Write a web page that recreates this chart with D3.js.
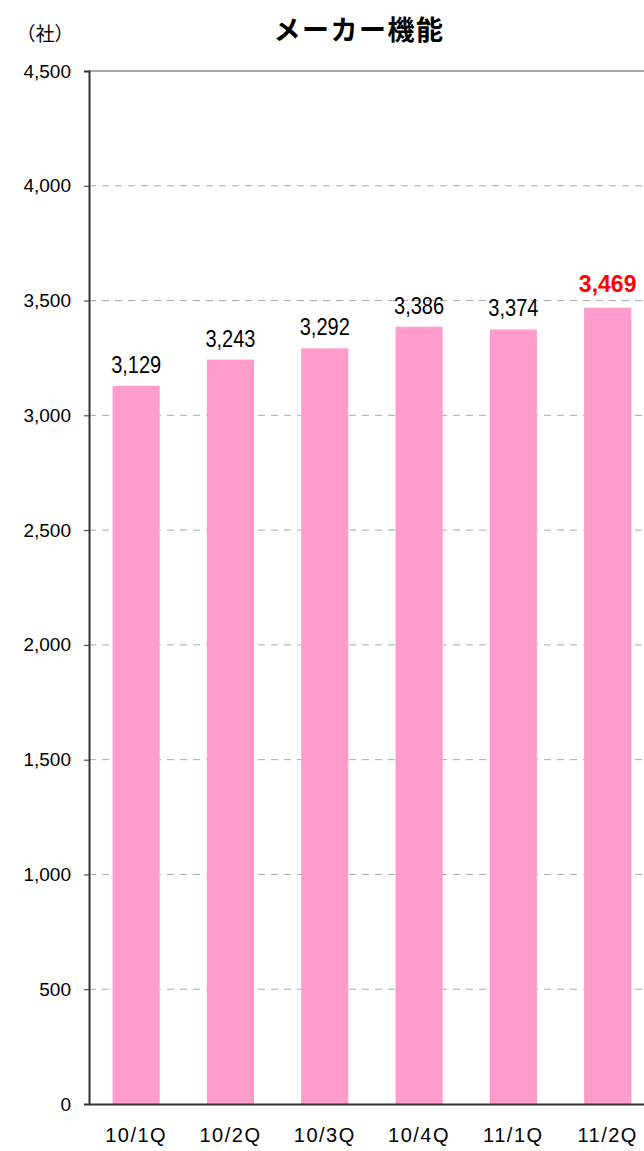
<!DOCTYPE html>
<html><head><meta charset="utf-8">
<script src="https://cdn.jsdelivr.net/npm/d3@7"></script>
<style>body{margin:0;background:#fff}svg{display:block}</style>
</head><body>
<script>
const categories = ["10/1Q","10/2Q","10/3Q","10/4Q","11/1Q","11/2Q"];
const values = [3129,3243,3292,3386,3374,3469];
const yTicks = [0,500,1000,1500,2000,2500,3000,3500,4000,4500];
const title = "メーカー機能";
const unitLabel = "（社）";

(function(){
const W = 644, H = 1151;
const svg = d3.select("body").append("svg").attr("width", W).attr("height", H);
const mLeft = 89, mTop = 71, mBottom = 1104, band = 94.3;

const x = d3.scaleBand().domain(categories).range([mLeft, mLeft + band * categories.length]).paddingInner(0.5).paddingOuter(0.25);
const y = d3.scaleLinear().domain([0, 4500]).range([mBottom, mTop]);

const numFont = "'Liberation Sans', Arial, sans-serif";
const cjkFont = "'Noto Sans CJK JP', sans-serif";

svg.append("g").selectAll("line").data(yTicks.filter(d => d > 0 && d < 4500)).join("line")
  .attr("x1", mLeft).attr("x2", W).attr("y1", d => y(d)).attr("y2", d => y(d))
  .attr("stroke", "#aaa").attr("stroke-width", 1).attr("stroke-dasharray", "7,6");
svg.append("line").attr("x1", mLeft).attr("x2", W).attr("y1", y(4500)).attr("y2", y(4500))
  .attr("stroke", "#555").attr("stroke-width", 1.2);

svg.append("g").selectAll("rect").data(values).join("rect")
  .attr("x", (d, i) => x(categories[i])).attr("width", x.bandwidth())
  .attr("y", d => y(d)).attr("height", d => mBottom - y(d))
  .attr("fill", "#ff9ccc");

const last = values.length - 1;
svg.append("g").selectAll("text").data(values).join("text")
  .attr("transform", (d, i) => `translate(${x(categories[i]) + x.bandwidth() / 2},${y(d) - (i === last ? 16 : 13)}) scale(${i === last ? 1 : 0.87},1)`)
  .attr("text-anchor", "middle")
  .attr("font-family", numFont)
  .attr("font-size", 23)
  .attr("font-weight", (d, i) => i === last ? "bold" : "normal")
  .attr("fill", (d, i) => i === last ? "#ff0000" : "#000")
  .text(d => d3.format(",")(d));

const yAxis = d3.axisLeft(y).tickValues(yTicks).tickFormat(d3.format(",")).tickSize(5).tickPadding(13);
const gy = svg.append("g").attr("transform", `translate(${mLeft},0)`).call(yAxis);
gy.select(".domain").attr("stroke", "#333").attr("stroke-width", 2);
gy.selectAll(".tick line").attr("stroke", "#333");
gy.selectAll("text").attr("font-family", numFont).attr("font-size", 19).attr("fill", "#000");

const xAxis = d3.axisBottom(x).tickSize(0).tickPadding(24);
const gx = svg.append("g").attr("transform", `translate(0,${mBottom})`).call(xAxis);
gx.select(".domain").attr("stroke", "#333").attr("stroke-width", 2);
gx.selectAll("text").attr("font-family", numFont).attr("font-size", 20).attr("fill", "#000").attr("letter-spacing", 1.5);

svg.append("text").attr("x", 359).attr("y", 40).attr("text-anchor", "middle")
  .attr("font-family", cjkFont).attr("font-size", 27).attr("font-weight", "bold")
  .attr("letter-spacing", 1.5).text(title);
svg.append("text").attr("x", 45).attr("y", 41).attr("text-anchor", "middle")
  .attr("font-family", cjkFont).attr("font-size", 19).text(unitLabel);
})();
</script>
</body></html>
